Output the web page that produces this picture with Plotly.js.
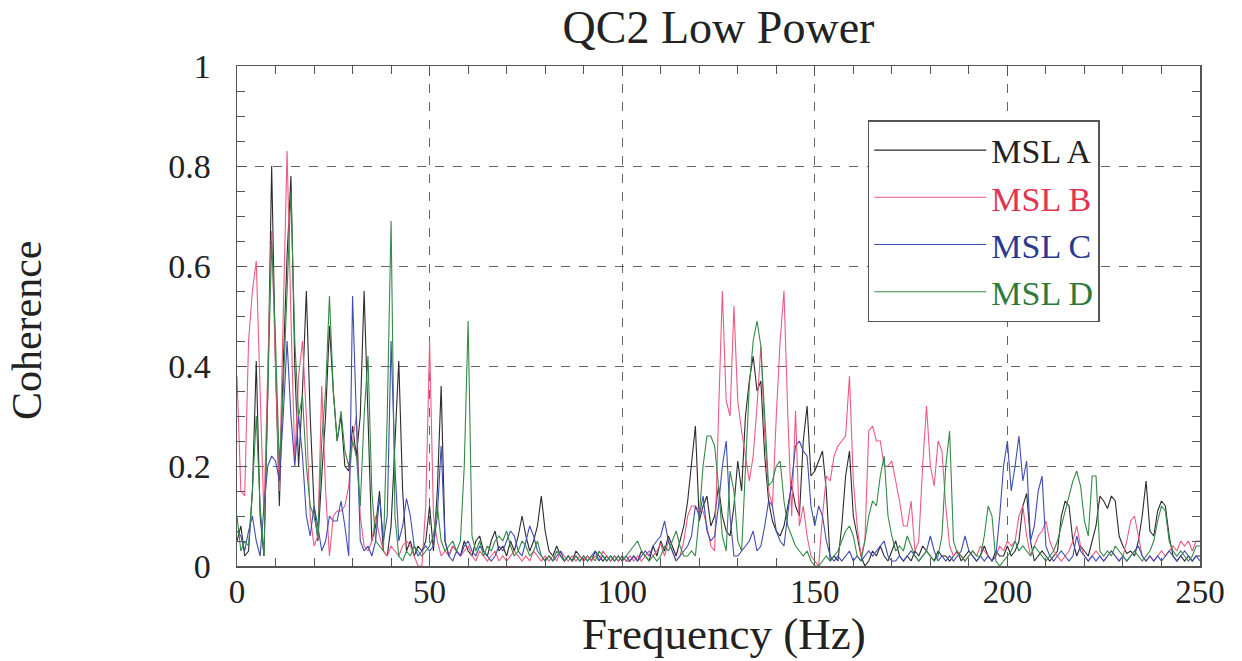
<!DOCTYPE html>
<html>
<head>
<meta charset="utf-8">
<script src="https://cdn.plot.ly/plotly-3.0.1.min.js"></script>
<style>html,body{margin:0;padding:0;background:#fff;}#chart{width:1242px;height:661px;}</style>
</head>
<body>
<div id="chart"></div>
<script>
// Frequency grid (Hz), one sample per Hz from 0 to 250
var freqStart = 0, freqEnd = 250;
var freq = [];
for (var f = freqStart; f <= freqEnd; f++) freq.push(f);

var seriesNames = ['MSL A', 'MSL B', 'MSL C', 'MSL D'];
var chartTitle = 'QC2 Low Power';
var xTitle = 'Frequency (Hz)';
var yTitle = 'Coherence';

// Coherence values (index = Hz)
var mslA = [
0.05,0.08,0.02,0.03,0.15,0.41,0.10,0.02,0.35,0.80,
0.40,0.12,0.40,0.62,0.78,0.40,0.20,0.35,0.55,0.30,
0.12,0.05,0.18,0.30,0.48,0.35,0.25,0.30,0.20,0.19,
0.28,0.22,0.30,0.55,0.30,0.05,0.08,0.15,0.03,0.02,
0.08,0.25,0.41,0.15,0.03,0.05,0.02,0.04,0.03,0.05,
0.12,0.03,0.15,0.36,0.05,0.02,0.04,0.03,0.02,0.05,
0.03,0.02,0.05,0.06,0.03,0.02,0.05,0.07,0.03,0.04,
0.02,0.05,0.03,0.06,0.10,0.06,0.03,0.05,0.08,0.14,
0.07,0.03,0.02,0.04,0.02,0.01,0.02,0.01,0.03,0.02,
0.01,0.02,0.01,0.03,0.02,0.01,0.02,0.01,0.02,0.01,
0.02,0.01,0.01,0.02,0.01,0.03,0.02,0.01,0.04,0.02,
0.05,0.03,0.06,0.04,0.02,0.05,0.08,0.13,0.20,0.28,
0.09,0.12,0.14,0.08,0.10,0.16,0.10,0.07,0.06,0.12,
0.21,0.15,0.30,0.37,0.42,0.35,0.37,0.22,0.13,0.09,
0.07,0.06,0.08,0.12,0.16,0.12,0.10,0.25,0.32,0.18,
0.19,0.21,0.23,0.15,0.01,0.02,0.01,0.08,0.18,0.23,
0.10,0.06,0.02,0.00,0.01,0.03,0.02,0.04,0.02,0.01,
0.03,0.05,0.02,0.01,0.02,0.01,0.03,0.02,0.04,0.03,
0.02,0.01,0.03,0.02,0.02,0.01,0.02,0.03,0.01,0.02,
0.03,0.02,0.01,0.02,0.04,0.02,0.01,0.03,0.02,0.02,
0.04,0.02,0.03,0.05,0.12,0.145,0.05,0.01,0.02,0.03,
0.02,0.01,0.02,0.03,0.10,0.13,0.12,0.05,0.02,0.04,
0.03,0.02,0.05,0.08,0.14,0.13,0.115,0.14,0.13,0.06,
0.04,0.025,0.03,0.02,0.05,0.10,0.17,0.07,0.06,0.11,
0.13,0.12,0.06,0.02,0.01,0.02,0.01,0.02,0.01,0.02,
0.02];

var mslB = [
0.38,0.15,0.14,0.45,0.55,0.61,0.35,0.10,0.40,0.67,
0.40,0.15,0.50,0.83,0.50,0.21,0.38,0.45,0.30,0.10,
0.04,0.06,0.36,0.15,0.02,0.10,0.11,0.11,0.12,0.16,
0.25,0.30,0.10,0.04,0.03,0.05,0.10,0.06,0.03,0.02,
0.04,0.03,0.02,0.04,0.05,0.04,0.02,0.00,0.00,0.12,
0.45,0.10,0.05,0.02,0.03,0.02,0.04,0.03,0.02,0.03,
0.04,0.02,0.01,0.03,0.02,0.01,0.02,0.03,0.01,0.02,
0.01,0.02,0.03,0.02,0.01,0.02,0.01,0.03,0.02,0.01,
0.02,0.01,0.02,0.01,0.03,0.02,0.01,0.02,0.01,0.02,
0.01,0.02,0.01,0.02,0.01,0.03,0.02,0.01,0.02,0.01,
0.02,0.01,0.02,0.01,0.02,0.01,0.02,0.03,0.02,0.03,
0.045,0.02,0.05,0.03,0.01,0.02,0.05,0.10,0.12,0.12,
0.11,0.11,0.08,0.04,0.03,0.30,0.55,0.33,0.30,0.52,
0.33,0.27,0.22,0.17,0.22,0.32,0.44,0.26,0.15,0.12,
0.30,0.45,0.55,0.30,0.10,0.31,0.08,0.12,0.06,0.02,
0.01,0.00,0.10,0.18,0.17,0.22,0.24,0.25,0.26,0.38,
0.17,0.08,0.02,0.05,0.27,0.28,0.25,0.25,0.20,0.20,
0.21,0.17,0.13,0.08,0.08,0.13,0.03,0.05,0.20,0.32,
0.20,0.16,0.25,0.23,0.12,0.04,0.02,0.03,0.02,0.01,
0.02,0.03,0.02,0.04,0.03,0.02,0.01,0.02,0.04,0.03,
0.05,0.04,0.05,0.10,0.12,0.06,0.02,0.04,0.06,0.07,
0.09,0.05,0.03,0.02,0.01,0.02,0.03,0.05,0.08,0.04,
0.02,0.01,0.02,0.03,0.02,0.01,0.02,0.03,0.02,0.01,
0.02,0.05,0.09,0.10,0.06,0.02,0.01,0.02,0.01,0.02,
0.03,0.02,0.03,0.04,0.03,0.05,0.04,0.05,0.03,0.05,
0.05];

var mslC = [
0.07,0.06,0.03,0.07,0.10,0.05,0.02,0.12,0.20,0.22,
0.21,0.17,0.30,0.45,0.30,0.20,0.30,0.22,0.10,0.06,
0.12,0.08,0.03,0.05,0.10,0.09,0.09,0.13,0.08,0.02,
0.54,0.30,0.05,0.03,0.04,0.02,0.05,0.14,0.05,0.10,
0.45,0.20,0.05,0.08,0.135,0.10,0.04,0.02,0.03,0.04,
0.03,0.04,0.10,0.24,0.05,0.02,0.01,0.03,0.02,0.04,
0.05,0.03,0.02,0.04,0.03,0.02,0.01,0.02,0.04,0.03,
0.05,0.07,0.06,0.03,0.02,0.05,0.08,0.06,0.03,0.02,
0.01,0.02,0.01,0.02,0.03,0.01,0.02,0.01,0.02,0.01,
0.02,0.01,0.02,0.03,0.01,0.02,0.01,0.02,0.01,0.02,
0.01,0.02,0.01,0.02,0.01,0.02,0.03,0.02,0.04,0.05,
0.06,0.09,0.05,0.03,0.01,0.02,0.03,0.04,0.06,0.12,
0.10,0.14,0.07,0.05,0.06,0.12,0.20,0.25,0.10,0.02,
0.02,0.03,0.04,0.05,0.07,0.03,0.04,0.08,0.13,0.12,
0.07,0.05,0.04,0.10,0.17,0.24,0.25,0.23,0.22,0.12,
0.08,0.12,0.10,0.05,0.02,0.01,0.02,0.01,0.02,0.03,
0.01,0.02,0.01,0.02,0.03,0.02,0.03,0.04,0.05,0.02,
0.01,0.01,0.02,0.01,0.02,0.03,0.02,0.01,0.02,0.03,
0.06,0.03,0.01,0.02,0.01,0.02,0.01,0.02,0.03,0.06,
0.03,0.02,0.01,0.02,0.01,0.02,0.01,0.02,0.10,0.20,
0.25,0.15,0.20,0.26,0.17,0.21,0.05,0.08,0.15,0.18,
0.04,0.02,0.01,0.02,0.03,0.02,0.01,0.02,0.06,0.03,
0.02,0.01,0.02,0.01,0.02,0.01,0.02,0.03,0.02,0.01,
0.02,0.01,0.02,0.03,0.04,0.02,0.01,0.02,0.01,0.02,
0.01,0.02,0.03,0.02,0.01,0.02,0.03,0.02,0.01,0.02,
0.01];

var mslD = [
0.10,0.03,0.05,0.04,0.15,0.30,0.12,0.02,0.35,0.65,
0.45,0.20,0.35,0.55,0.75,0.45,0.30,0.34,0.20,0.12,
0.10,0.06,0.25,0.35,0.54,0.35,0.25,0.31,0.23,0.20,
0.25,0.22,0.12,0.30,0.42,0.15,0.05,0.04,0.03,0.30,
0.69,0.10,0.02,0.01,0.03,0.02,0.04,0.03,0.02,0.03,
0.04,0.06,0.12,0.05,0.03,0.04,0.05,0.03,0.05,0.20,
0.49,0.06,0.03,0.05,0.02,0.04,0.03,0.05,0.06,0.05,
0.07,0.04,0.02,0.03,0.05,0.04,0.02,0.03,0.05,0.02,
0.01,0.02,0.01,0.03,0.02,0.01,0.02,0.01,0.02,0.01,
0.02,0.01,0.02,0.01,0.03,0.02,0.01,0.02,0.01,0.02,
0.01,0.02,0.03,0.04,0.05,0.03,0.02,0.01,0.02,0.01,
0.02,0.04,0.03,0.05,0.07,0.04,0.02,0.02,0.03,0.02,
0.10,0.20,0.26,0.26,0.24,0.16,0.06,0.03,0.19,0.15,
0.05,0.03,0.20,0.36,0.45,0.49,0.44,0.30,0.16,0.17,
0.20,0.21,0.13,0.08,0.06,0.04,0.03,0.02,0.03,0.01,
0.00,0.00,0.01,0.02,0.01,0.02,0.03,0.05,0.07,0.08,
0.06,0.02,0.01,0.05,0.10,0.13,0.12,0.18,0.22,0.10,
0.06,0.03,0.04,0.03,0.06,0.04,0.02,0.01,0.02,0.03,
0.02,0.01,0.02,0.06,0.20,0.27,0.05,0.025,0.02,0.01,
0.02,0.03,0.02,0.02,0.06,0.12,0.10,0.01,0.00,0.01,
0.02,0.03,0.05,0.03,0.04,0.03,0.02,0.04,0.03,0.02,
0.01,0.02,0.03,0.05,0.08,0.11,0.14,0.17,0.19,0.16,
0.09,0.06,0.18,0.18,0.03,0.02,0.03,0.02,0.04,0.03,
0.02,0.01,0.02,0.03,0.02,0.01,0.02,0.03,0.05,0.09,
0.12,0.11,0.05,0.03,0.02,0.03,0.02,0.01,0.02,0.04,
0.04];

var xTickVals = [0, 50, 100, 150, 200, 250];
var yTickVals = [0, 0.2, 0.4, 0.6, 0.8, 1];
var yTickText = ['0', '0.2', '0.4', '0.6', '0.8', '1'];

var lineColors = ['#2b2b2b', '#ef5a80', '#3f4db3', '#348a48'];
var textColors = ['#222222', '#e3334f', '#2b3990', '#2e7a3c'];
var values = [mslA, mslB, mslC, mslD];

var FONT = 'Liberation Serif, Times New Roman, serif';

var traces = values.map(function (v, i) {
  return {
    x: freq, y: v, type: 'scatter', mode: 'lines',
    name: '<span style="color:' + textColors[i] + '">' + seriesNames[i] + '</span>',
    line: {color: lineColors[i], width: 1.1}
  };
});

var axisCommon = {
  showline: true, linecolor: '#555', linewidth: 1.5, mirror: 'ticks',
  ticks: 'inside', ticklen: 10, tickcolor: '#555', tickwidth: 1,
  showgrid: true, gridcolor: '#666', gridwidth: 1, griddash: 'dash',
  zeroline: false,
  tickfont: {family: FONT, size: 34, color: '#222'}
};

var layout = {
  width: 1242, height: 661,
  paper_bgcolor: '#fff', plot_bgcolor: '#fff',
  margin: {l: 237, r: 42, t: 66, b: 95},
  title: {text: chartTitle, font: {family: FONT, size: 46, color: '#222'},
          x: 0.5, xref: 'paper', xanchor: 'center', y: 0.959, yref: 'container', yanchor: 'middle'},
  xaxis: Object.assign({}, axisCommon, {
    range: [0, 250], tickvals: xTickVals, ticklabelstandoff: -4,
    tickfont: {family: FONT, size: 33, color: '#222'},
    minor: {dtick: 10, tick0: 0, ticks: 'inside', ticklen: 8, tickcolor: '#555', showgrid: false}
  }),
  yaxis: Object.assign({}, axisCommon, {
    range: [0, 1], tickvals: yTickVals, ticktext: yTickText, ticklabelstandoff: 18,
    minor: {dtick: 0.05, tick0: 0, ticks: 'inside', ticklen: 8, tickcolor: '#555', showgrid: false}
  }),
  annotations: [
    {text: xTitle, xref: 'paper', yref: 'paper', x: 0.506, y: -0.188,
     xanchor: 'center', yanchor: 'bottom', showarrow: false, borderpad: 0,
     font: {family: FONT, size: 45, color: '#222'}},
    {text: yTitle, xref: 'paper', yref: 'paper', x: -0.218, y: 0.472,
     xanchor: 'center', yanchor: 'middle', textangle: -90, showarrow: false,
     font: {family: FONT, size: 42, color: '#222'}}
  ],
  showlegend: true,
  legend: {
    x: 0.655, y: 0.892, xanchor: 'left', yanchor: 'top',
    bgcolor: '#fff', bordercolor: '#555', borderwidth: 1.5,
    font: {family: FONT, size: 34, color: '#222'},
    itemwidth: 112, tracegroupgap: 0
  }
};

Plotly.newPlot('chart', traces, layout, {displayModeBar: false, staticPlot: true});
</script>
</body>
</html>
